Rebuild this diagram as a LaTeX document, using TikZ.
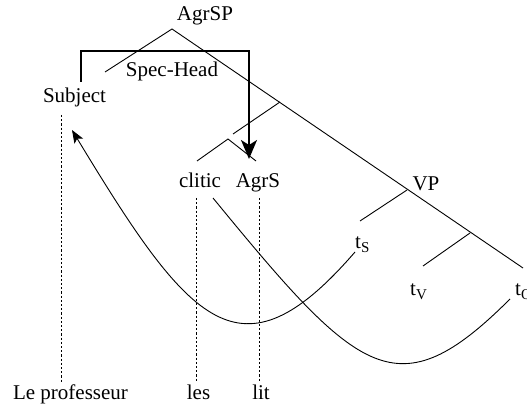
\documentclass[tikz,border=0pt]{standalone}
\usepackage{fontspec}
\setmainfont{Liberation Serif}
\usetikzlibrary{arrows.meta}
\newcommand\subs[1]{\raisebox{-4pt}{\fontsize{15}{15}\selectfont #1}}
\begin{document}
\begin{tikzpicture}[x=1pt,y=-1pt,
  lbl/.style={inner sep=0pt, font=\fontsize{21}{21}\selectfont, anchor=base},
  lblw/.style={lbl, anchor=base west},
  tree/.style={line width=0.9pt},
  dots/.style={line width=1pt, dash pattern=on 2.2pt off 2pt},
  thick arrow/.style={line width=1.9pt, -{Stealth[length=19pt,width=16pt,inset=5pt]}},
  move/.style={line width=0.9pt},
  movearrow/.style={move, -{Stealth[length=13pt,width=10pt,inset=3pt]}}]
\useasboundingbox (0,0) rectangle (527,406);
\clip (0,0) rectangle (527,406);

% labels
\node[lbl] (agrsp) at (205,21) {AgrSP};
\node[lbl] (spechead) at (172,77) {Spec-Head};
\node[lbl] (subject) at (74.5,103) {Subject};
\node[lbl] (clitic) at (200,187) {clitic};
\node[lbl] (agrs) at (258,187) {AgrS};
\node[lbl] (vp) at (426,190) {VP};
\node[lblw] (ts) at (355,248) {t\subs{S}};
\node[lblw] (tv) at (410,295) {t\subs{V}};
\node[lblw] (to) at (515,295) {t\subs{O}};
\node[lbl] (prof) at (70.5,399) {Le professeur};
\node[lbl] (les) at (198.5,399) {les};
\node[lbl] (lit) at (261,399) {lit};

% tree points
\coordinate (top) at (172,29);
\coordinate (specend) at (105,72);
\coordinate (spineend) at (523,268);
\coordinate (b1) at (280,102);
\coordinate (b1e) at (233,134);
\coordinate (hd) at (228,139);
\coordinate (hdl) at (197,161);
\coordinate (hdr) at (256,161);
\coordinate (vpn) at (407,190);
\coordinate (vpl) at (360,221);
\coordinate (vb) at (470,233);
\coordinate (vbl) at (423,266);

\draw[tree] (specend) -- (top) -- (spineend);
\draw[tree] (b1) -- (b1e);
\draw[tree] (hdl) -- (hd) -- (hdr);
\draw[tree] (vpn) -- (vpl);
\draw[tree] (vb) -- (vbl);

% spec-head agreement arrow
\coordinate (sa) at (81,82);
\coordinate (sb) at (81,51);
\coordinate (sc) at (249,51);
\coordinate (sd) at (249,159);
\draw[thick arrow] (sa) -- (sb) -- (sc) -- (sd);

% dotted association lines
\coordinate (d1a) at (61,115);
\coordinate (d1b) at (61,382);
\coordinate (d2a) at (196,198);
\coordinate (d2b) at (196,382);
\coordinate (d3a) at (259,198);
\coordinate (d3b) at (259,382);
\draw[dots] (d1a) -- (d1b);
\draw[dots] (d2a) -- (d2b);
\draw[dots] (d3a) -- (d3b);

% movement curves
\coordinate (m1s) at (355,252);
\coordinate (m1e) at (72,130);
\draw[movearrow] (m1s) .. controls (240,385) and (190,325) .. (m1e);
\coordinate (m2s) at (213,198);
\coordinate (m2e) at (510,299);
\draw[move] (m2s) .. controls (359,376) and (397,412) .. (m2e);
\end{tikzpicture}
\end{document}
